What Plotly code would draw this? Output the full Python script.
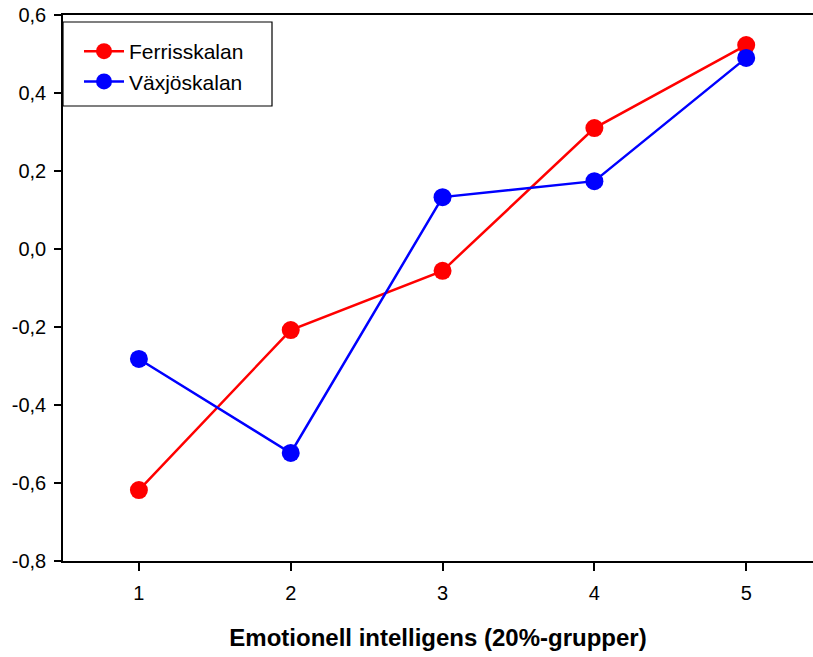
import plotly.graph_objects as go

x_groups = [1, 2, 3, 4, 5]
ferris = [-0.618, -0.208, -0.056, 0.31, 0.523]
vaxjo = [-0.282, -0.523, 0.133, 0.174, 0.49]
y_ticks = [-0.8, -0.6, -0.4, -0.2, 0.0, 0.2, 0.4, 0.6]
y_ticktext = ["-0,8", "-0,6", "-0,4", "-0,2", "0,0", "0,2", "0,4", "0,6"]
x_title = "Emotionell intelligens (20%-grupper)"

fig = go.Figure()
fig.add_trace(go.Scatter(x=x_groups, y=ferris, mode="lines+markers", name="Ferrisskalan",
                         line=dict(color="#ff0000", width=2.5),
                         marker=dict(color="#ff0000", size=18)))
fig.add_trace(go.Scatter(x=x_groups, y=vaxjo, mode="lines+markers", name="Växjöskalan",
                         line=dict(color="#0000ff", width=2.5),
                         marker=dict(color="#0000ff", size=18)))

W, H = 813, 657
L, R, T, B = 63, 0, 15, 96
pw, ph = W - L - R, H - T - B

# legend frame
fig.add_shape(type="rect", xref="paper", yref="paper",
              x0=0, x1=(272 - L) / pw, y0=1 - (106 - T) / ph, y1=1 - (22 - T) / ph,
              line=dict(color="black", width=1.2), fillcolor="white", layer="below")

fig.update_layout(
    width=W, height=H,
    margin=dict(l=L, r=R, t=T, b=B),
    plot_bgcolor="white", paper_bgcolor="white",
    font=dict(family="Liberation Sans, Arial, sans-serif", color="black", size=20),
    showlegend=True,
    legend=dict(x=16 / pw, y=1 - (31 - T) / ph, xanchor="left", yanchor="top",
                borderwidth=0, bgcolor="rgba(0,0,0,0)",
                font=dict(size=21), itemwidth=40, tracegroupgap=0),
    xaxis=dict(range=[0.5, 5.44], tickvals=x_groups, ticks="outside", ticklen=8,
               tickcolor="black", tickwidth=1.5, showline=True, linecolor="black", linewidth=1.5,
               mirror=True, showgrid=False, zeroline=False, ticklabelstandoff=5,
               title=dict(text="<b>" + x_title + "</b>", font=dict(size=24), standoff=26)),
    yaxis=dict(range=[-0.8, 0.6], tickvals=y_ticks, ticktext=y_ticktext, ticks="outside",
               ticklen=7, tickcolor="black", tickwidth=1.5, showline=True, linecolor="black",
               linewidth=1.5, showgrid=False, zeroline=False, ticklabelstandoff=4),
)

fig.write_html("out.html", config={"displayModeBar": False},
               post_script="document.body.style.margin='0';document.body.style.padding='0';document.body.style.overflow='hidden';")
